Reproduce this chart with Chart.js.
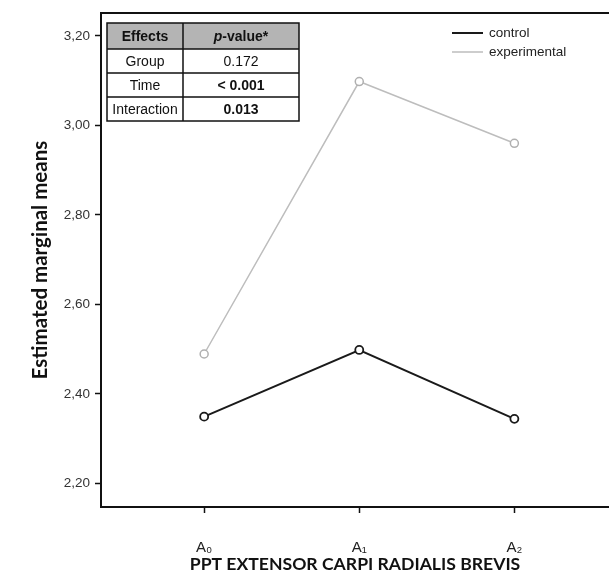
<!DOCTYPE html>
<html>
<head>
<meta charset="utf-8">
<script src="https://cdn.jsdelivr.net/npm/chart.js@4.4.1/dist/chart.umd.min.js"></script>
<style>
  body { margin: 0; background: #fff; }
  #chartBox { width: 609px; height: 573px; }
</style>
</head>
<body>
<div id="chartBox"><canvas id="emmChart" width="609" height="573"></canvas></div>
<script>
// categories on the x axis (measurement times)
const categories = ['A\u2080', 'A\u2081', 'A\u2082'];
const controlMeans = [2.349, 2.498, 2.344];
const experimentalMeans = [2.489, 3.098, 2.960];
const yTicks = [2.2, 2.4, 2.6, 2.8, 3.0, 3.2];

// inset table of effects
const effects = ['Group', 'Time', 'Interaction'];
const pValues = ['0.172', '< 0.001', '0.013'];
const pBold = [false, true, true];

function toPoints(arr) {
    return arr.map(function (v, i) { return { x: i, y: v }; });
}

// draws the top frame line, the legend and the effects table
const decorPlugin = {
    id: 'decor',
    afterDraw: function (chart) {
        const c = chart.ctx;
        const area = chart.chartArea;
        c.save();

        // top frame line
        c.strokeStyle = '#111';
        c.lineWidth = 2;
        c.beginPath();
        c.moveTo(area.left - 1, area.top);
        c.lineTo(chart.width, area.top);
        c.stroke();

        // legend
        c.font = '13.5px "Liberation Sans", Arial, sans-serif';
        c.textAlign = 'left';
        c.textBaseline = 'middle';
        chart.data.datasets.forEach(function (ds, i) {
            const y = 33 + i * 19;
            c.strokeStyle = ds.borderColor;
            c.lineWidth = ds.borderWidth;
            c.beginPath();
            c.moveTo(452, y);
            c.lineTo(483, y);
            c.stroke();
            c.fillStyle = '#222';
            c.fillText(ds.label, 489, y);
        });

        // effects table
        const colX = [107, 183, 299];
        const rowY = [23, 49, 73, 97, 121];
        c.fillStyle = '#b4b4b4';
        c.fillRect(colX[0], rowY[0], colX[2] - colX[0], rowY[1] - rowY[0]);
        c.fillStyle = '#fff';
        c.fillRect(colX[0], rowY[1], colX[2] - colX[0], rowY[4] - rowY[1]);
        c.strokeStyle = '#111';
        c.lineWidth = 1.5;
        c.strokeRect(colX[0], rowY[0], colX[2] - colX[0], rowY[4] - rowY[0]);
        c.beginPath();
        rowY.slice(1, 4).forEach(function (y) {
            c.moveTo(colX[0], y);
            c.lineTo(colX[2], y);
        });
        c.moveTo(colX[1], rowY[0]);
        c.lineTo(colX[1], rowY[4]);
        c.stroke();

        const mid0 = (colX[0] + colX[1]) / 2;
        const mid1 = (colX[1] + colX[2]) / 2;
        const fs = '14px "Liberation Sans", Arial, sans-serif';
        c.fillStyle = '#111';
        c.textAlign = 'center';
        c.font = 'bold ' + fs;
        c.fillText('Effects', mid0, (rowY[0] + rowY[1]) / 2 + 1);

        // header "p-value*" with italic p
        const italicFont = 'italic bold ' + fs;
        const boldFont = 'bold ' + fs;
        c.font = italicFont;
        const wP = c.measureText('p').width;
        c.font = boldFont;
        const wRest = c.measureText('-value*').width;
        const sx = mid1 - (wP + wRest) / 2;
        const hy = (rowY[0] + rowY[1]) / 2 + 1;
        c.textAlign = 'left';
        c.font = italicFont;
        c.fillText('p', sx, hy);
        c.font = boldFont;
        c.fillText('-value*', sx + wP, hy);

        c.textAlign = 'center';
        effects.forEach(function (name, i) {
            const y = (rowY[i + 1] + rowY[i + 2]) / 2 + 1;
            c.font = fs;
            c.fillText(name, mid0, y);
            c.font = (pBold[i] ? 'bold ' : '') + fs;
            c.fillText(pValues[i], mid1, y);
        });

        c.restore();
    }
};

document.addEventListener('DOMContentLoaded', function () {
    const ctx = document.getElementById('emmChart').getContext('2d');
    const emmChart = new Chart(ctx, {
        type: 'line',
        data: {
            datasets: [{
                label: 'control',
                data: toPoints(controlMeans),
                borderColor: '#1a1a1a',
                backgroundColor: '#ffffff',
                borderWidth: 2,
                pointRadius: 4,
                pointBorderWidth: 1.8,
                pointBackgroundColor: '#ffffff',
                pointBorderColor: '#1a1a1a',
                tension: 0
            }, {
                label: 'experimental',
                data: toPoints(experimentalMeans),
                borderColor: '#bdbdbd',
                backgroundColor: '#ffffff',
                borderWidth: 1.5,
                pointRadius: 4,
                pointBorderWidth: 1.5,
                pointBackgroundColor: '#ffffff',
                pointBorderColor: '#b0b0b0',
                tension: 0
            }]
        },
        options: {
            responsive: false,
            animation: false,
            devicePixelRatio: 1,
            layout: { autoPadding: false, padding: { top: 10, right: 0, left: 0, bottom: 0 } },
            plugins: {
                legend: { display: false },
                tooltip: { enabled: false }
            },
            scales: {
                x: {
                    type: 'linear',
                    min: -0.665,
                    max: 2.61,
                    afterBuildTicks: function (scale) {
                        scale.ticks = categories.map(function (c, i) { return { value: i }; });
                    },
                    afterFit: function (scale) { scale.height = 66; },
                    ticks: {
                        callback: function (v) { return categories[v]; },
                        font: { family: '"Liberation Sans", Arial, sans-serif', size: 15 },
                        color: '#222',
                        padding: 26,
                        maxRotation: 0
                    },
                    grid: {
                        drawOnChartArea: false,
                        drawTicks: true,
                        tickLength: 6,
                        tickWidth: 1.5,
                        tickColor: '#111'
                    },
                    border: { display: true, color: '#111', width: 2 },
                    title: {
                        display: true,
                        text: 'PPT EXTENSOR CARPI RADIALIS BREVIS',
                        font: { family: 'Lato, "Open Sans", sans-serif', size: 17.6, weight: 'bold', lineHeight: 1 },
                        color: '#111',
                        padding: { top: -1, bottom: 0 }
                    }
                },
                y: {
                    min: 2.147,
                    max: 3.251,
                    afterBuildTicks: function (scale) {
                        scale.ticks = yTicks.map(function (v) { return { value: v }; });
                    },
                    afterFit: function (scale) { scale.width = 101; },
                    ticks: {
                        callback: function (v) { return v.toFixed(2).replace('.', ','); },
                        font: { family: '"Liberation Sans", Arial, sans-serif', size: 13.5 },
                        color: '#333',
                        padding: 5
                    },
                    grid: {
                        drawOnChartArea: false,
                        drawTicks: true,
                        tickLength: 6,
                        tickWidth: 1.5,
                        tickColor: '#111'
                    },
                    border: { display: true, color: '#111', width: 2 },
                    title: {
                        display: true,
                        text: 'Estimated marginal means',
                        font: { family: 'Lato, "Open Sans", sans-serif', size: 20.5, weight: 'bold', lineHeight: 1 },
                        color: '#111',
                        padding: { top: 30, bottom: 0 }
                    }
                }
            }
        },
        plugins: [decorPlugin]
    });
});
</script>
</body>
</html>
